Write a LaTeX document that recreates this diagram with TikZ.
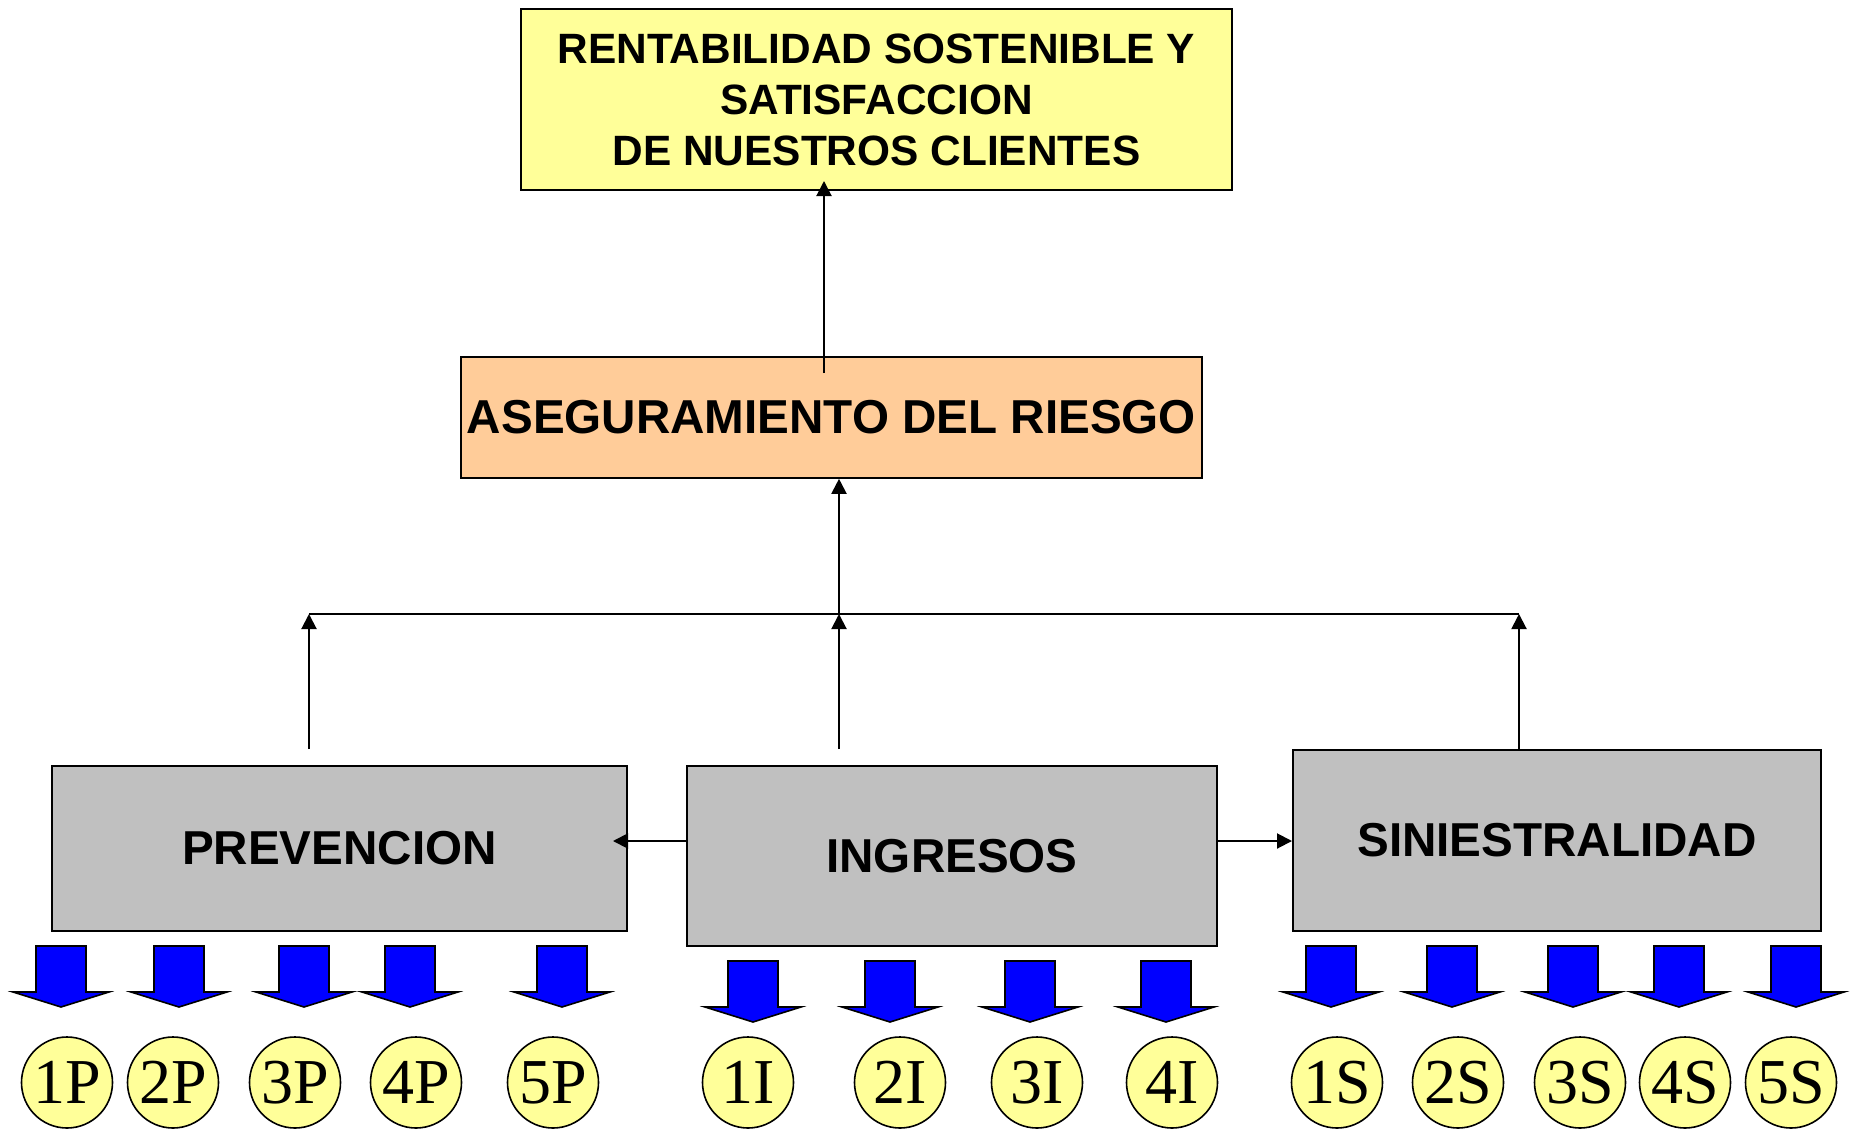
\documentclass[tikz,border=0pt]{standalone}
\usepackage{fontspec}
\setmainfont{Liberation Serif}
\setsansfont{Liberation Sans}
\usetikzlibrary{arrows.meta}

\definecolor{goalyellow}{HTML}{FFFF99}
\definecolor{riskorange}{HTML}{FFCC99}
\definecolor{areagray}{HTML}{C0C0C0}

\begin{document}
\begin{tikzpicture}[
x = 0.5pt, y = -0.5pt,
goal/.style={rectangle, draw=black, fill=goalyellow, line width=1pt, inner sep=0pt, minimum width=355.5pt, minimum height=90.5pt, align=center, font=\sffamily\bfseries\fontsize{21.2}{25.5}\selectfont},
risk/.style={rectangle, draw=black, fill=riskorange, line width=0.8pt, inner sep=0pt, minimum width=370.5pt, minimum height=60.5pt, font=\sffamily\bfseries\fontsize{23.8}{28}\selectfont},
area/.style={rectangle, draw=black, fill=areagray, line width=1pt, inner sep=0pt, font=\sffamily\bfseries\fontsize{23.8}{28}\selectfont},
item/.style={circle, draw=black, fill=goalyellow, line width=0.8pt, inner sep=0pt, minimum size=45.5pt, font=\fontsize{32}{34}\selectfont},
flow/.style={-{Triangle[length=7.5pt,width=7.5pt]}, line width=1pt},
push/.pic={\filldraw[fill=blue, draw=black, line width=0.8pt, line join=miter] (-25,0) -- (25,0) -- (25,46) -- (48,46) -- (0,61) -- (-48,46) -- (-25,46) -- cycle;}]

\useasboundingbox (0,0) rectangle (1858,1135);

\node[goal] (top) at (876.5,99.5) {RENTABILIDAD SOSTENIBLE Y\\SATISFACCION\\DE NUESTROS CLIENTES};
\node[risk] (riesgo) at (831.5,417.5) {ASEGURAMIENTO DEL RIESGO};

\node[area, minimum width=287.5pt, minimum height=82.5pt] (prev) at (339.5,848.5) {PREVENCION};
\node[area, minimum width=265pt, minimum height=90pt] (ingr) at (952,856) {INGRESOS};
\node[area, minimum width=264pt, minimum height=90.5pt] (sini) at (1557,840.5) {SINIESTRALIDAD};

% junctions of the collecting line
\coordinate (jP) at (309,614);
\coordinate (jI) at (839,614);
\coordinate (jS) at (1519,614);
\coordinate (sP) at (309,749);
\coordinate (sI) at (839,749);
\coordinate (r0) at (824,373);
\coordinate (hy) at (0,841);

\draw[flow, shorten >=-5pt] (r0) -- (r0 |- top.south);
\draw[flow] (jI) -- (jI |- riesgo.south);
\draw[line width=1pt] (jP) -- (jS);
\draw[flow] (sP) -- (jP);
\draw[flow] (sI) -- (jI);
\draw[flow] (sini.north -| jS) -- (jS);
\draw[flow, shorten >=-7.5pt] (ingr.west |- hy) -- (prev.east |- hy);
\draw[flow] (ingr.east |- hy) -- (sini.west |- hy);

% blue arrows
\pic at (61,946) {push};
\pic at (179,946) {push};
\pic at (304,946) {push};
\pic at (410,946) {push};
\pic at (562,946) {push};
\pic at (753,961) {push};
\pic at (890,961) {push};
\pic at (1030,961) {push};
\pic at (1166,961) {push};
\pic at (1331,946) {push};
\pic at (1452,946) {push};
\pic at (1573,946) {push};
\pic at (1679,946) {push};
\pic at (1796,946) {push};

% items
\node[item] (1P) at (67,1082.5) {1P};
\node[item] (2P) at (173,1082.5) {2P};
\node[item] (3P) at (295,1082.5) {3P};
\node[item] (4P) at (416,1082.5) {4P};
\node[item] (5P) at (553,1082.5) {5P};
\node[item] (1I) at (748,1082.5) {1I};
\node[item] (2I) at (900,1082.5) {2I};
\node[item] (3I) at (1037,1082.5) {3I};
\node[item] (4I) at (1172,1082.5) {4I};
\node[item] (1S) at (1337,1082.5) {1S};
\node[item] (2S) at (1458,1082.5) {2S};
\node[item] (3S) at (1580,1082.5) {3S};
\node[item] (4S) at (1685,1082.5) {4S};
\node[item] (5S) at (1791,1082.5) {5S};
\end{tikzpicture}
\end{document}
